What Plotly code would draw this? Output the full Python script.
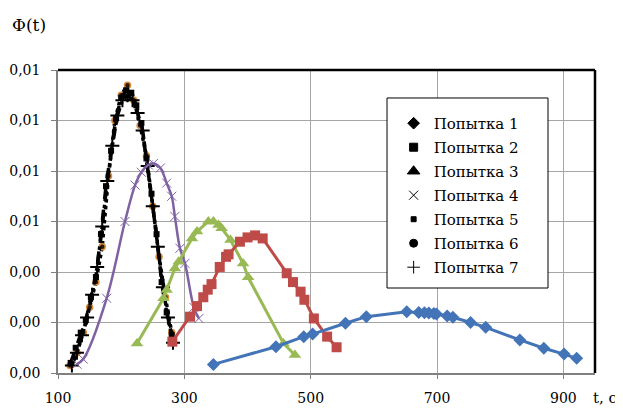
import plotly.graph_objects as go

# ---- data ----
s1_t = [346, 445, 489, 503, 555, 588, 652, 671, 680, 687, 695, 699, 716, 725, 753, 777, 831, 869, 901, 921]
s1_y = [0.00034, 0.00104, 0.00144, 0.00154, 0.00197, 0.00223, 0.00243, 0.00240, 0.00239, 0.00238,
        0.00236, 0.00234, 0.00226, 0.00221, 0.00200, 0.00181, 0.00131, 0.00098, 0.00075, 0.00058]

s2_t = [281, 309, 320, 330, 337, 343, 356, 366, 370, 388, 400, 412, 424, 462, 472, 484, 490, 505, 526, 541]
s2_y = [0.00124, 0.00223, 0.00265, 0.00300, 0.00330, 0.00352, 0.00420, 0.00460, 0.00470, 0.00520,
        0.00537, 0.00545, 0.00533, 0.00395, 0.00360, 0.00322, 0.00290, 0.00216, 0.00144, 0.00102]

s3_t = [225, 267, 272, 285, 291, 312, 320, 338, 346, 354, 359, 373, 393, 401, 457, 475]
s3_y = [0.00117, 0.00296, 0.00329, 0.00414, 0.00441, 0.00533, 0.00560, 0.00600, 0.00600, 0.00586,
        0.00573, 0.00527, 0.00434, 0.00379, 0.00117, 0.00071]

s4_t = [130, 140, 177, 206, 222, 232, 243, 251, 262, 272, 280, 285, 293, 301, 315, 323]
s4_y = [0.00035, 0.00055, 0.00296, 0.00600, 0.00744, 0.00795, 0.00824, 0.00830, 0.00812, 0.00752,
        0.00700, 0.00620, 0.00494, 0.00434, 0.00260, 0.00216]

s5_t = [120, 128, 136, 144, 152, 160, 168, 176, 184, 192, 200, 208, 216, 224, 232, 240, 248, 256, 264, 272, 280]
s5_y = [0.0004, 0.0010, 0.0016, 0.0021, 0.0030, 0.0038, 0.0055, 0.0074, 0.0088, 0.0101, 0.0109,
        0.0112, 0.0111, 0.0106, 0.0099, 0.0085, 0.0071, 0.0055, 0.0036, 0.0024, 0.0015]

s6_t = [119, 130, 140, 150, 160, 170, 180, 190, 200, 210, 220, 230, 240, 250, 260, 270, 280]
s6_y = [0.0003, 0.0008, 0.0016, 0.0026, 0.0036, 0.0050, 0.0078, 0.0100, 0.0110, 0.0114, 0.0108,
        0.0098, 0.0086, 0.0066, 0.0046, 0.0030, 0.0016]

s7_t = [122, 130, 138, 146, 154, 162, 170, 178, 186, 194, 202, 210, 218, 226, 234, 242, 250, 258, 266, 274, 282]
s7_y = [0.0003, 0.0008, 0.0015, 0.0022, 0.0031, 0.0042, 0.0058, 0.0076, 0.0090, 0.0102, 0.0108,
        0.0110, 0.0108, 0.0103, 0.0096, 0.0082, 0.0066, 0.0050, 0.0034, 0.0022, 0.0012]

names = ["Попытка 1", "Попытка 2", "Попытка 3", "Попытка 4", "Попытка 5", "Попытка 6", "Попытка 7"]
x_ticks = [100, 300, 500, 700, 900]
y_ticks = [0, 0.002, 0.004, 0.006, 0.008, 0.010, 0.012]

FONT = "DejaVu Serif"
BLUE, RED, GREEN, PURPLE = "#4374B7", "#BE4B48", "#98B954", "#7E62A1"
ORANGE = "#D98B3A"

fig = go.Figure()

# black dotted / dashed series first (underneath)
fig.add_trace(go.Scatter(x=s6_t, y=s6_y, mode="lines+markers", showlegend=False,
                         line=dict(color="black", width=3.5, dash="dot"),
                         marker=dict(symbol="circle", size=6, color="#2a1a0a",
                                     line=dict(color=ORANGE, width=1.5))))
fig.add_trace(go.Scatter(x=s5_t, y=s5_y, mode="lines+markers", showlegend=False,
                         line=dict(color="black", width=3.5, dash="dash"),
                         marker=dict(symbol="square", size=6, color="black")))
fig.add_trace(go.Scatter(x=s7_t, y=s7_y, mode="lines+markers", showlegend=False,
                         line=dict(color="black", width=3.5, dash="dashdot"),
                         marker=dict(symbol="cross-thin", size=10, color="black",
                                     line=dict(color="black", width=2))))

fig.add_trace(go.Scatter(x=s4_t, y=s4_y, mode="lines+markers", showlegend=False,
                         line=dict(color=PURPLE, width=2.5, shape="spline"),
                         marker=dict(symbol="x-thin", size=9, color=PURPLE,
                                     line=dict(color=PURPLE, width=1))))
fig.add_trace(go.Scatter(x=s3_t, y=s3_y, mode="lines+markers", showlegend=False,
                         line=dict(color=GREEN, width=3),
                         marker=dict(symbol="triangle-up", size=11, color=GREEN)))
fig.add_trace(go.Scatter(x=s2_t, y=s2_y, mode="lines+markers", showlegend=False,
                         line=dict(color=RED, width=3),
                         marker=dict(symbol="square", size=10, color=RED)))
fig.add_trace(go.Scatter(x=s1_t, y=s1_y, mode="lines+markers", showlegend=False,
                         line=dict(color=BLUE, width=3),
                         marker=dict(symbol="diamond", size=10, color=BLUE)))

# legend entries (black markers only)
leg_syms = ["diamond", "square", "triangle-up", "x-thin", "square", "circle", "cross-thin"]
leg_size = [9, 8, 11, 9, 5, 8, 9]
for i, (nm, sym, sz) in enumerate(zip(names, leg_syms, leg_size)):
    fig.add_trace(go.Scatter(x=[None], y=[None], mode="markers", name=nm,
                             legendgroup="g%d" % i,
                             marker=dict(symbol=sym, size=sz, color="black",
                                         line=dict(color="black", width=1))))

# page body has an 8px margin, so the figure is drawn 8px smaller and offset
fig.update_layout(
    width=615, height=404,
    margin=dict(l=50, r=28, t=62, b=39, autoexpand=False),
    paper_bgcolor="white", plot_bgcolor="white",
    separators=", ",
    font=dict(family=FONT, size=15, color="black"),
    legend=dict(x=0.625, y=0.878, xanchor="left", yanchor="top",
                borderwidth=0, bgcolor="rgba(0,0,0,0)",
                font=dict(family=FONT, size=15, color="black"), itemwidth=30,
                tracegroupgap=1.5),
    xaxis=dict(range=[100, 950], tickvals=x_ticks, ticktext=[str(v) for v in x_ticks],
               showgrid=True, gridcolor="#A6A6A6", gridwidth=1, automargin=False,
               showline=True, linecolor="#808080", linewidth=1.5,
               ticks="outside", ticklen=4, tickcolor="#808080", zeroline=False,
               ticklabelstandoff=7,
               tickfont=dict(family=FONT, size=14, color="black")),
    yaxis=dict(range=[0, 0.012], tickvals=y_ticks, tickformat=".2f",
               showgrid=True, gridcolor="#A6A6A6", gridwidth=1, automargin=False,
               showline=True, linecolor="#808080", linewidth=1.5,
               ticks="outside", ticklen=5, tickcolor="#808080", zeroline=False,
               ticklabelstandoff=8,
               tickfont=dict(family=FONT, size=14, color="black")),
    shapes=[
        dict(type="line", xref="paper", yref="paper", x0=0, x1=1, y0=1, y1=1,
             line=dict(color="black", width=2.5)),
        dict(type="line", xref="paper", yref="paper", x0=1, x1=1, y0=0, y1=1,
             line=dict(color="black", width=2.5)),
        dict(type="rect", xref="paper", yref="paper", x0=0.6127, x1=0.9125,
             y0=0.2805, y1=0.9076, layer="above", fillcolor="white",
             line=dict(color="black", width=1)),
    ],
    annotations=[
        dict(text="Φ(t)", xref="paper", yref="paper", x=-0.089, y=1.15,
             xanchor="left", yanchor="middle", showarrow=False,
             font=dict(family=FONT, size=17, color="black")),
        dict(text="t, c", xref="paper", yref="paper", x=1.045, y=-0.083,
             xanchor="right", yanchor="middle", showarrow=False,
             font=dict(family=FONT, size=15, color="black")),
    ],
)

fig.write_html("out.html")
